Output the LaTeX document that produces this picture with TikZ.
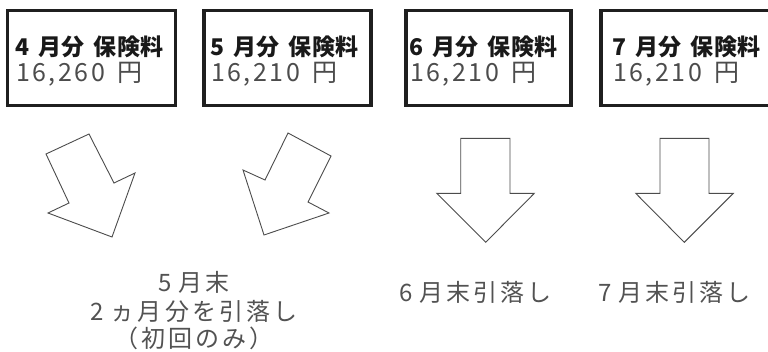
\documentclass[tikz,border=0pt]{standalone}
\usepackage{fontspec}
\setmainfont{Noto Sans CJK JP}
\begin{document}
\begin{tikzpicture}[x=1pt,y=-1pt]
\useasboundingbox (0,0) rectangle (768,351);
\tikzset{
 pricebox/.style={draw=black!88, line width=3.5pt, inner sep=0pt},
 ttl/.style={anchor=base west, inner sep=0pt, font=\fontsize{23}{23}\selectfont\bfseries\addfontfeature{LetterSpace=2}, text=black!90},
 price/.style={anchor=base west, inner sep=0pt, font=\fontsize{25}{25}\selectfont\addfontfeature{LetterSpace=10}, text=black!70},
 arrowshape/.style={draw=black!70, line width=0.9pt, fill=white, line join=miter},
 lbl/.style={font=\fontsize{24}{27}\selectfont\addfontfeature{LetterSpace=13}, text=black!68, align=center, inner sep=0pt}
}
\newcommand\tsp{\hspace{9pt}}
\newcommand\psp{\hspace{12pt}}
\newcommand\lsp{\hspace{7pt}}
\begin{scope}
\clip (0,0) rectangle (768,351);
\node[pricebox, minimum width=167.75pt, minimum height=95pt] (b1) at (91.6,58) {};
\node[pricebox, minimum width=167.25pt, minimum height=95pt] (b2) at (287.4,58) {};
\node[pricebox, minimum width=165.25pt, minimum height=95pt] (b3) at (488.4,58) {};
\node[pricebox, minimum width=179.25pt, minimum height=95pt] (b4) at (690.4,58) {};
\end{scope}
\node[ttl] (t1) at (15,55) {4\tsp 月分\tsp 保険料};
\node[price] (p1) at (16,81) {16,260\psp 円};
\node[ttl] (t2) at (210,55) {5\tsp 月分\tsp 保険料};
\node[price] (p2) at (211,81) {16,210\psp 円};
\node[ttl] (t3) at (409,55) {6\tsp 月分\tsp 保険料};
\node[price] (p3) at (410,81) {16,210\psp 円};
\node[ttl] (t4) at (612,55) {7\tsp 月分\tsp 保険料};
\node[price] (p4) at (613,81) {16,210\psp 円};
% arrows
\draw[arrowshape] (46,154) -- (89,134) -- (114,183) -- (135,173) -- (112,237) -- (48,213) -- (69,203) -- cycle;
\draw[arrowshape] (288,133) -- (331,156) -- (308,202) -- (329,213) -- (264,235) -- (243,170) -- (265,180) -- cycle;
\draw[arrowshape] (460.7,138.3) -- (510,138.3) -- (510,193.3) -- (534.3,193.3) -- (485.7,242.3) -- (436.7,193.3) -- (460.7,193.3) -- cycle;
\draw[arrowshape] (660,138.3) -- (709,138.3) -- (709,193.3) -- (733.3,193.3) -- (684.3,242.3) -- (635.7,193.3) -- (660,193.3) -- cycle;
% labels
\node[lbl, anchor=north] (l1) at (194,271) {5\lsp 月末\\[2pt]2\lsp ヵ月分を引落し\\[0pt]（初回のみ）};
\node[lbl, anchor=base west] (l3) at (399,301) {6\lsp 月末引落し};
\node[lbl, anchor=base west] (l4) at (598,301) {7\lsp 月末引落し};
\end{tikzpicture}
\end{document}
